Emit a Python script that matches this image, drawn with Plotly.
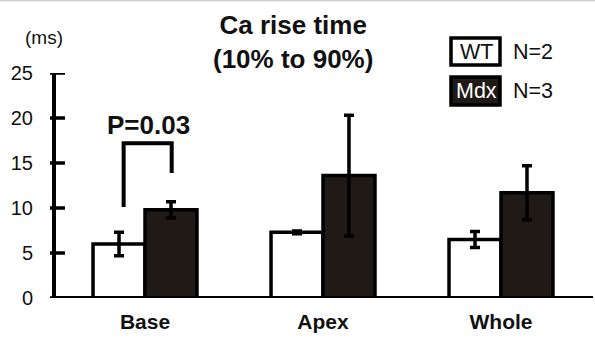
import plotly.graph_objects as go

categories = ["Base", "Apex", "Whole"]
wt_values = [6.0, 7.3, 6.5]
wt_err = [1.3, 0.15, 0.9]
mdx_values = [9.8, 13.6, 11.7]
mdx_err = [0.9, 6.7, 3.0]
y_ticks = [0, 5, 10, 15, 20, 25]
p_label = "P=0.03"

W, H = 595, 337
L, R, T, B = 56, 5, 73, 39
PW, PH = W - L - R, H - T - B

def px(x):
    return (x - L) / PW

def py(y):
    return (H - B - y) / PH

FONT = "Liberation Sans, Arial, sans-serif"
INK = "#111111"
DARK = "#201a17"

fig = go.Figure()
fig.add_trace(go.Bar(
    x=categories, y=wt_values, name="WT",
    marker=dict(color="white", line=dict(color="black", width=3.5)),
    error_y=dict(type="data", array=wt_err, color="black", thickness=3.5, width=5),
))
fig.add_trace(go.Bar(
    x=categories, y=mdx_values, name="Mdx",
    marker=dict(color=DARK, line=dict(color="black", width=3.5)),
    error_y=dict(type="data", array=mdx_err, color="black", thickness=3.5, width=5),
))

shapes = []
# x axis line
shapes.append(dict(type="line", xref="paper", yref="y", x0=px(52), x1=px(593), y0=0, y1=0,
                   line=dict(color="black", width=4)))
# crossing tick marks on y axis
for t in y_ticks:
    shapes.append(dict(type="line", xref="paper", yref="y", x0=px(50), x1=px(65), y0=t, y1=t,
                       line=dict(color="black", width=3.5)))
# significance bracket
xl, xr = -0.12, 0.15
shapes.append(dict(type="path", xref="x", yref="y",
                   path=f"M {xl} {10.1} L {xl} {17.2} L {xr} {17.2} L {xr} {13.9}",
                   line=dict(color="black", width=4)))
# legend boxes
shapes.append(dict(type="rect", xref="paper", yref="paper", x0=px(451), x1=px(500), y0=py(65), y1=py(38),
                   line=dict(color="black", width=3.5), fillcolor="white"))
shapes.append(dict(type="rect", xref="paper", yref="paper", x0=px(451), x1=px(500), y0=py(105), y1=py(77),
                   line=dict(color="black", width=3.5), fillcolor=DARK))
# thin top border
shapes.append(dict(type="line", xref="paper", yref="paper", x0=px(0), x1=px(595), y0=py(0.5), y1=py(0.5),
                   line=dict(color="#cccccc", width=1.5)))

annotations = [
    dict(text="<b>Ca rise time<br>(10% to 90%)</b>", xref="paper", yref="paper", x=px(293), y=py(42.5),
         showarrow=False, font=dict(size=26, color=INK, family=FONT), xanchor="center", yanchor="middle"),
    dict(text="(ms)", xref="paper", yref="paper", x=px(44), y=py(37), showarrow=False,
         font=dict(size=19, color=INK, family=FONT), xanchor="center", yanchor="middle"),
    dict(text=f"<b>{p_label}</b>", xref="x", yref="y", x=0.017, y=19.2, showarrow=False,
         font=dict(size=26, color=INK, family=FONT), xanchor="center", yanchor="middle"),
    dict(text="WT", xref="paper", yref="paper", x=px(476), y=py(52), showarrow=False,
         font=dict(size=21.5, color=INK, family=FONT), xanchor="center", yanchor="middle"),
    dict(text="Mdx", xref="paper", yref="paper", x=px(476), y=py(91), showarrow=False,
         font=dict(size=21.5, color="white", family=FONT), xanchor="center", yanchor="middle"),
    dict(text="N=2", xref="paper", yref="paper", x=px(533), y=py(52), showarrow=False,
         font=dict(size=21.5, color=INK, family=FONT), xanchor="center", yanchor="middle"),
    dict(text="N=3", xref="paper", yref="paper", x=px(533), y=py(91), showarrow=False,
         font=dict(size=21.5, color=INK, family=FONT), xanchor="center", yanchor="middle"),
]

fig.update_layout(
    width=W, height=H,
    margin=dict(l=L, r=R, t=T, b=B, pad=0, autoexpand=False),
    paper_bgcolor="white", plot_bgcolor="white",
    barmode="group", bargap=0.416, bargroupgap=0,
    showlegend=False,
    shapes=shapes, annotations=annotations,
    font=dict(family=FONT, color=INK),
    xaxis=dict(type="category", range=[-0.5, 2.5], showline=False, showgrid=False, zeroline=False,
               ticks="", tickfont=dict(size=21, color=INK, family=FONT, weight="bold"),
               ticklabelstandoff=9, fixedrange=True, automargin=False),
    yaxis=dict(range=[0, 25], tickvals=y_ticks, showline=True, linewidth=4, linecolor="black",
               showgrid=False, zeroline=False, ticks="", ticklabelstandoff=15,
               tickfont=dict(size=20, color=INK, family=FONT), fixedrange=True, automargin=False),
)

fig.write_html("out.html", config={"displayModeBar": False},
               post_script="document.body.style.margin='0px';document.body.style.overflow='hidden';")
